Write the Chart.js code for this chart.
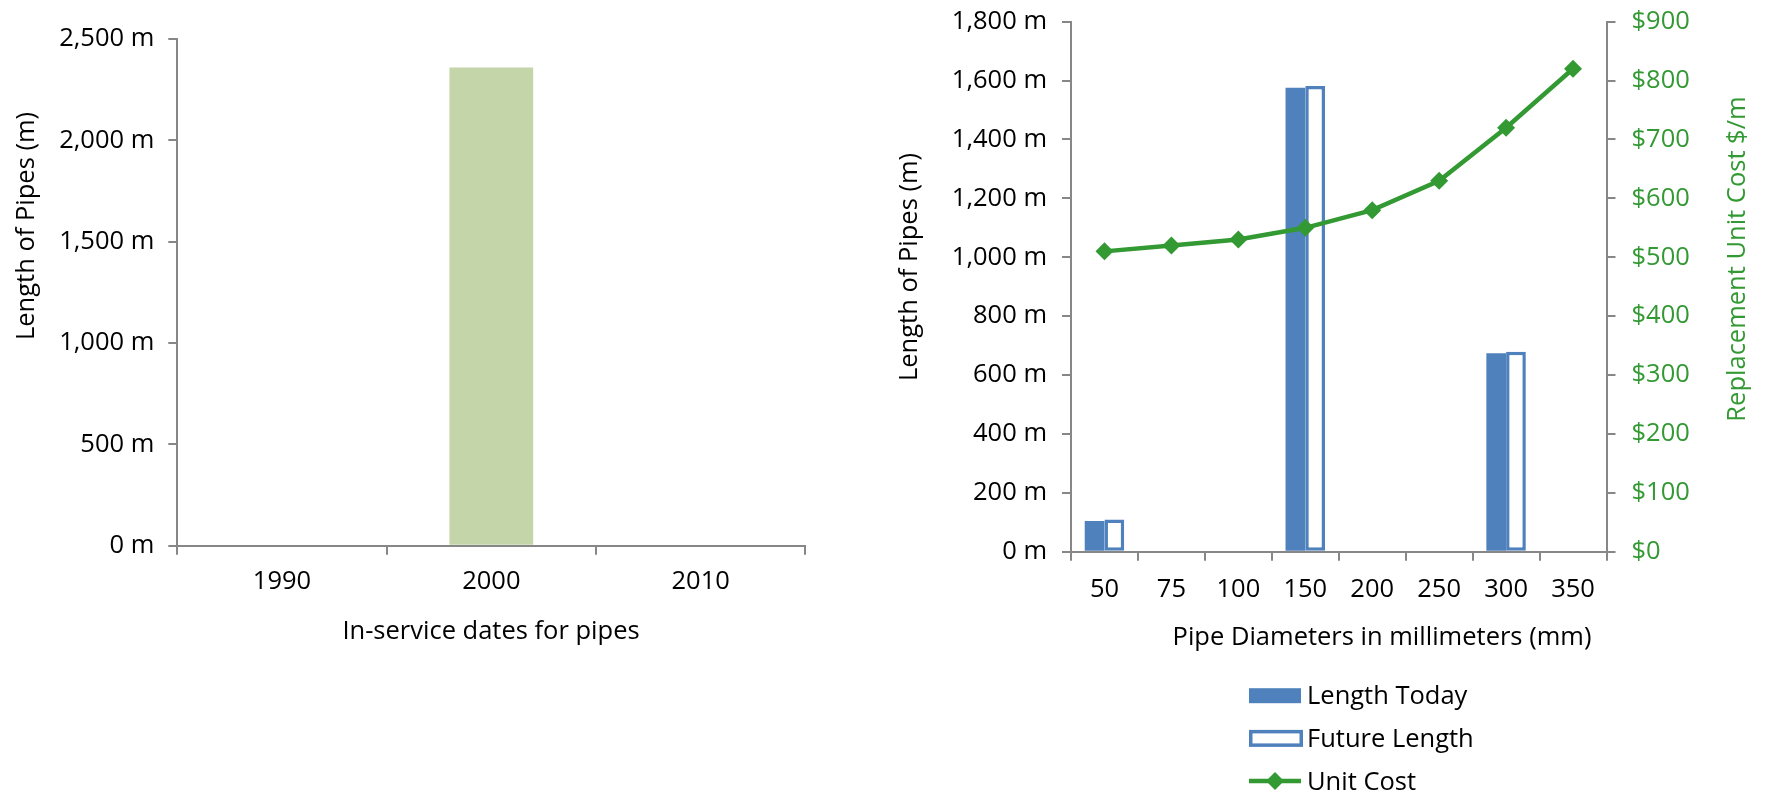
<!DOCTYPE html>
<html>
<head>
<meta charset="utf-8">
<title>Pipe inventory</title>
<script src="https://cdn.jsdelivr.net/npm/chart.js@4"></script>
<style>
  html, body { margin: 0; padding: 0; background: #ffffff; }
  #wrap { position: relative; width: 1767px; height: 793px; overflow: hidden; }
  canvas { position: absolute; top: 0; }
  #ageChart { left: 0; }
  #sizeChart { left: 880px; }
</style>
</head>
<body>
<div id="wrap">
  <canvas id="ageChart" width="880" height="793"></canvas>
  <canvas id="sizeChart" width="887" height="793"></canvas>
</div>
<script>
// ---- data ----
const serviceYears = ['1990', '2000', '2010'];
const lengthByYear = [0, 2360, 0];

const diameters = ['50', '75', '100', '150', '200', '250', '300', '350'];
const lengthToday = [104, 0, 0, 1576, 0, 0, 674, 0];
const futureLength = [109, 0, 0, 1582, 0, 0, 679, 0];
const unitCost = [510, 520, 530, 550, 580, 630, 720, 820];

const seriesNames = ['Length Today', 'Future Length', 'Unit Cost'];
const axisTitles = {
  ageY: 'Length of Pipes (m)',
  ageX: 'In-service dates for pipes',
  sizeY: 'Length of Pipes (m)',
  sizeY2: 'Replacement Unit Cost $/m',
  sizeX: 'Pipe Diameters in millimeters (mm)'
};

// ---- styling ----
const FONT_FAMILY = "'Open Sans', 'Noto Sans', sans-serif";
const FONT_SIZE = 25.5;
const AXIS_GREY = '#878787';
const BLUE = '#4f81bd';
const GREEN = '#339933';
const OLIVE = '#c4d6a9';

Chart.defaults.font.family = FONT_FAMILY;
Chart.defaults.font.size = FONT_SIZE;
Chart.defaults.color = '#000000';

const metresLabel = v => v.toLocaleString('en-US') + ' m';
const dollarLabel = v => '$' + v.toLocaleString('en-US');

function axisGrid() {
  return { drawOnChartArea: false, drawTicks: true, tickLength: 9, color: AXIS_GREY, lineWidth: 2 };
}
function axisBorder() {
  return { display: true, color: AXIS_GREY, width: 2 };
}
// fixed axis thickness; label overflow is already covered by the layout padding
function fixWidth(w) {
  return s => { s.width = w; s.paddingTop = 0; s.paddingBottom = 0; };
}
function fixHeight(h) {
  return s => { s.height = h; s.paddingLeft = 0; s.paddingRight = 0; };
}

// Axis titles placed freely (Chart.js only rotates right-hand titles clockwise)
const freeTitles = {
  id: 'freeTitles',
  afterDraw(chart, args, opts) {
    const ctx = chart.ctx;
    (opts.items || []).forEach(t => {
      ctx.save();
      ctx.translate(t.x, t.y);
      ctx.rotate(t.rotation || 0);
      ctx.font = FONT_SIZE + 'px ' + FONT_FAMILY;
      ctx.fillStyle = t.color || '#000';
      ctx.textAlign = 'center';
      ctx.textBaseline = 'middle';
      ctx.fillText(t.text, 0, 0);
      ctx.restore();
    });
  }
};

// Legend stacked in a single column under the plot
const stackedLegend = {
  id: 'stackedLegend',
  afterDraw(chart, args, opts) {
    if (!opts || opts.left === undefined) return;
    const ctx = chart.ctx;
    const w = opts.swatchWidth, h = opts.swatchHeight;
    chart.data.datasets.forEach((ds, i) => {
      const cy = opts.top + i * opts.rowGap;
      const x0 = opts.left;
      ctx.save();
      if (ds.type === 'line') {
        ctx.strokeStyle = ds.borderColor;
        ctx.lineWidth = ds.borderWidth;
        ctx.beginPath();
        ctx.moveTo(x0, cy);
        ctx.lineTo(x0 + w, cy);
        ctx.stroke();
        const r = ds.pointRadius;
        const cx = x0 + w / 2;
        ctx.fillStyle = ds.pointBackgroundColor;
        ctx.beginPath();
        ctx.moveTo(cx - r, cy);
        ctx.lineTo(cx, cy - r);
        ctx.lineTo(cx + r, cy);
        ctx.lineTo(cx, cy + r);
        ctx.closePath();
        ctx.fill();
      } else if (ds.backgroundColor === '#ffffff') {
        const bw = ds.borderWidth;
        ctx.strokeStyle = ds.borderColor;
        ctx.lineWidth = bw;
        ctx.strokeRect(x0 + bw / 2, cy - h / 2 - 1 + bw / 2, w + 2 - bw, h + 2 - bw);
      } else {
        ctx.fillStyle = ds.backgroundColor;
        ctx.fillRect(x0, cy - h / 2, w, h);
      }
      ctx.font = FONT_SIZE + 'px ' + FONT_FAMILY;
      ctx.fillStyle = '#000';
      ctx.textAlign = 'left';
      ctx.textBaseline = 'middle';
      ctx.fillText(ds.label, x0 + w + opts.textGap, cy + 1.5);
      ctx.restore();
    });
  }
};

// ---- left chart: length by in-service date ----
new Chart(document.getElementById('ageChart'), {
  type: 'bar',
  data: {
    labels: serviceYears,
    datasets: [{
      label: 'Length',
      data: lengthByYear,
      backgroundColor: OLIVE,
      borderWidth: 0,
      categoryPercentage: 0.4,
      barPercentage: 1
    }]
  },
  options: {
    responsive: false,
    animation: false,
    devicePixelRatio: 1,
    layout: { padding: { top: 39, right: 74.7, bottom: 187.3, left: 0 } },
    plugins: {
      legend: { display: false },
      tooltip: { enabled: false },
      freeTitles: {
        items: [
          { text: axisTitles.ageY, x: 27, y: 226, rotation: -Math.PI / 2 },
          { text: axisTitles.ageX, x: 491, y: 632 }
        ]
      }
    },
    scales: {
      x: {
        z: 1,
        grid: axisGrid(),
        border: axisBorder(),
        ticks: { padding: 12, maxRotation: 0, autoSkip: false, color: '#000' },
        afterFit: fixHeight(60)
      },
      y: {
        min: 0, max: 2500,
        grid: axisGrid(),
        border: axisBorder(),
        ticks: { stepSize: 500, padding: 14, callback: metresLabel, color: '#000' },
        afterFit: fixWidth(177.3)
      }
    }
  },
  plugins: [freeTitles]
});

// ---- right chart: length and unit cost by diameter ----
new Chart(document.getElementById('sizeChart'), {
  type: 'bar',
  data: {
    labels: diameters,
    datasets: [
      {
        label: seriesNames[0],
        data: lengthToday,
        backgroundColor: BLUE,
        borderWidth: 0,
        categoryPercentage: 0.59,
        barPercentage: 1,
        yAxisID: 'y',
        order: 1
      },
      {
        label: seriesNames[1],
        data: futureLength,
        backgroundColor: '#ffffff',
        borderColor: BLUE,
        borderWidth: 3.5,
        borderSkipped: false,
        categoryPercentage: 0.59,
        barPercentage: 1,
        yAxisID: 'y',
        order: 1
      },
      {
        type: 'line',
        label: seriesNames[2],
        data: unitCost,
        borderColor: GREEN,
        borderWidth: 4.5,
        pointStyle: 'rectRot',
        pointRadius: 9,
        pointBackgroundColor: GREEN,
        pointBorderWidth: 0,
        tension: 0,
        fill: false,
        yAxisID: 'y2',
        order: 0
      }
    ]
  },
  options: {
    responsive: false,
    animation: false,
    devicePixelRatio: 1,
    layout: { padding: { top: 21.7, right: 0, bottom: 181.3, left: 0 } },
    plugins: {
      legend: { display: false },
      tooltip: { enabled: false },
      freeTitles: {
        items: [
          { text: axisTitles.sizeY, x: 30, y: 267, rotation: -Math.PI / 2 },
          { text: axisTitles.sizeY2, x: 858, y: 259, rotation: -Math.PI / 2, color: GREEN },
          { text: axisTitles.sizeX, x: 502, y: 638 }
        ]
      },
      stackedLegend: {
        left: 369, top: 695.7, rowGap: 42.7,
        swatchWidth: 52, swatchHeight: 15, textGap: 6
      }
    },
    scales: {
      x: {
        z: 1,
        grid: axisGrid(),
        border: axisBorder(),
        ticks: { padding: 14, maxRotation: 0, autoSkip: false, color: '#000' },
        afterFit: fixHeight(60)
      },
      y: {
        position: 'left',
        min: 0, max: 1800,
        grid: axisGrid(),
        border: axisBorder(),
        ticks: { stepSize: 200, padding: 15, callback: metresLabel, color: '#000' },
        afterFit: fixWidth(191)
      },
      y2: {
        position: 'right',
        min: 0, max: 900,
        grid: axisGrid(),
        border: axisBorder(),
        ticks: { stepSize: 100, padding: 16, callback: dollarLabel, color: GREEN },
        afterFit: fixWidth(160.5)
      }
    }
  },
  plugins: [freeTitles, stackedLegend]
});
</script>
</body>
</html>
